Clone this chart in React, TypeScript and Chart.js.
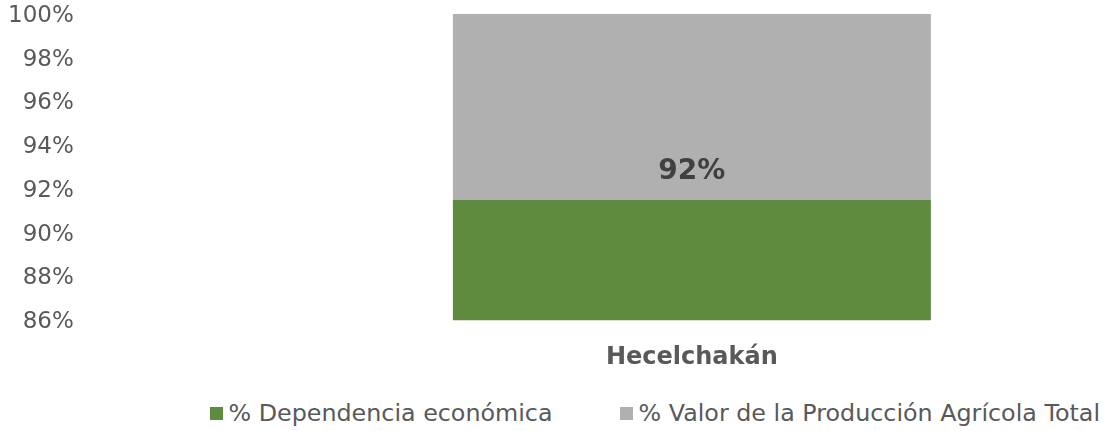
import React, { useEffect, useRef } from "react";
import { Chart, registerables } from "chart.js";
Chart.register(...registerables);

const categories = ["Hecelchakán"];
const dependencia = [91.5];
const valorTotal = [8.5];
const seriesLabels = ["% Dependencia económica", "% Valor de la Producción Agrícola Total"];
const seriesColors = ["#5E8B3E", "#B0B0B0"];
const yMin = 86;
const yMax = 100;
const yStep = 2;

const FONT = "'DejaVu Sans', sans-serif";

const labelPlugin = {
  id: "topLabel",
  afterDatasetsDraw(chart: any) {
    const meta = chart.getDatasetMeta(0);
    const ctx = chart.ctx;
    ctx.save();
    ctx.font = `bold 28px ${FONT}`;
    ctx.fillStyle = "#404040";
    ctx.textAlign = "center";
    ctx.textBaseline = "middle";
    meta.data.forEach((bar: any, i: number) => {
      const v = chart.data.datasets[0].data[i] as number;
      ctx.fillText(Math.round(v) + "%", bar.x, bar.y - 28);
    });
    ctx.restore();
  },
};

export default function App() {
  const ref = useRef<HTMLCanvasElement>(null);
  useEffect(() => {
    if (!ref.current) return;
    const chart = new Chart(ref.current, {
      type: "bar",
      data: {
        labels: categories,
        datasets: [
          { label: seriesLabels[0], data: dependencia, backgroundColor: seriesColors[0] },
          { label: seriesLabels[1], data: valorTotal, backgroundColor: seriesColors[1] },
        ],
      },
      options: {
        animation: false,
        responsive: true,
        maintainAspectRatio: false,
        layout: { padding: { left: 8, right: 8, top: 0, bottom: 3 } },
        plugins: { legend: { display: false }, tooltip: { enabled: false } },
        datasets: { bar: { categoryPercentage: 1, barPercentage: 0.587 } },
        scales: {
          x: {
            stacked: true,
            grid: { display: false, drawTicks: false },
            border: { display: false },
            ticks: { padding: 23, color: "#595959", font: { family: FONT, size: 24, weight: "bold" } },
          },
          y: {
            stacked: true,
            min: yMin,
            max: yMax,
            grid: { display: false, drawTicks: false },
            border: { display: false },
            afterFit: (s: any) => {
              const p = s.options.ticks.padding;
              s.width = s.width - p;
              s.paddingTop = Math.max(s.paddingTop - p, 0);
              s.paddingBottom = Math.max(s.paddingBottom - p, 0);
            },
            ticks: {
              stepSize: yStep,
              padding: 211,
              labelOffset: 2,
              color: "#595959",
              font: { family: FONT, size: 23 },
              callback: (v: any) => v + "%",
            },
          },
        },
      },
      plugins: [labelPlugin],
    });
    return () => chart.destroy();
  }, []);

  return (
    <div style={{ position: "absolute", left: 0, top: 0, width: 1107, height: 431, background: "#fff" }}>
      <div style={{ position: "absolute", left: 0, top: 0, width: 1107, height: 398 }}>
        <canvas ref={ref} />
      </div>
      <div
        style={{
          position: "absolute",
          right: 7,
          top: 399,
          height: 28,
          display: "flex",
          alignItems: "center",
          gap: 67,
          fontFamily: FONT,
          fontSize: 23.8,
          color: "#595959",
          whiteSpace: "nowrap",
        }}
      >
        {seriesLabels.map((l, i) => (
          <div key={l} style={{ display: "flex", alignItems: "center" }}>
            <span style={{ width: 13, height: 13, background: seriesColors[i], marginRight: 6, display: "inline-block" }} />
            <span>{l}</span>
          </div>
        ))}
      </div>
    </div>
  );
}
